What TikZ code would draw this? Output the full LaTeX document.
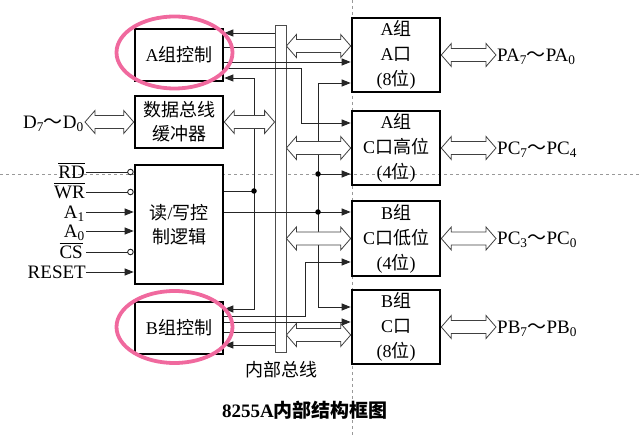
\documentclass[tikz,border=0pt]{standalone}
\usepackage{fontspec}
\setmainfont{Liberation Serif}
\newfontfamily\cjk{Noto Sans CJK SC}
\usetikzlibrary{arrows.meta,calc}
\newcommand{\zh}[1]{{\cjk #1}}
\definecolor{pinkc}{RGB}{240,105,158}
\newcommand{\dbarrow}[2]{%
 \draw[blockarrow] let \p1=(#1), \p2=(#2) in
  (\x1,\y1) -- (\x1+10pt,\y1+11.5pt) -- (\x1+10pt,\y1+6.5pt) -- (\x2-10pt,\y1+6.5pt) -- (\x2-10pt,\y1+11.5pt) -- (\x2,\y1) -- (\x2-10pt,\y1-11.5pt) -- (\x2-10pt,\y1-6.5pt) -- (\x1+10pt,\y1-6.5pt) -- (\x1+10pt,\y1-11.5pt) -- cycle;}
\newcommand{\ovl}[1]{$\overline{\mbox{\vphantom{I}\rule{0pt}{14pt}#1}}$}
\begin{document}
\begin{tikzpicture}[x=1pt,y=-1pt,
  box/.style={draw, line width=2.6pt, minimum width=88pt, inner sep=0pt, align=center, font=\fontsize{18}{24}\selectfont},
  portbox/.style={box, minimum height=74pt, font=\fontsize{18}{25}\selectfont},
  sig/.style={draw=black!85, line width=0.9pt},
  arr/.style={sig, -{Triangle[length=9pt,width=7pt]}},
  inv/.style={sig, -{Circle[open,length=6.5pt,width=6.5pt]}},
  blockarrow/.style={draw=black!75, line width=0.8pt, fill=white, line join=miter},
  dot/.style={circle, fill, inner sep=0pt, minimum size=5.5pt},
  lab/.style={font=\fontsize{19}{22}\selectfont, inner sep=0pt},
  guide/.style={draw=gray!80, line width=0.6pt, dash pattern=on 3pt off 3pt},
  ring/.style={draw=pinkc, line width=3.8pt}]
\useasboundingbox (0,0) rectangle (642,435);
% guide lines
\draw[guide] (0,174) -- (642,174);
\draw[guide] (352,0) -- (352,435);

% bus
\node[draw=black!70, line width=0.8pt, fill=white, minimum width=11pt, minimum height=327pt, inner sep=0pt] (bus) at (280.5,188.5) {};

% left boxes
\node[box, minimum height=52pt] (actl) at (179,55) {A\zh{组控制}};
\node[box, minimum height=52pt] (buf) at (179,122) {\zh{数据总线}\\\zh{缓冲器}};
\node[box, minimum height=119pt, fill=white] (rw) at (179,224.5) {\zh{读}/\zh{写控}\\\zh{制逻辑}};
\node[box, minimum height=52pt] (bctl) at (179,328) {B\zh{组控制}};

% right boxes
\node[portbox] (pa) at (396,55) {A\zh{组}\\A\zh{口}\\(8\zh{位})};
\node[portbox] (pch) at (396,148) {A\zh{组}\\C\zh{口高位}\\(4\zh{位})};
\node[portbox, minimum height=75pt] (pcl) at (396,238.5) {B\zh{组}\\C\zh{口低位}\\(4\zh{位})};
\node[portbox] (pb) at (396,327) {B\zh{组}\\C\zh{口}\\(8\zh{位})};

% coordinates
\coordinate (ya1) at (0,33);
\coordinate (ya2) at (0,47);
\coordinate (ya3) at (0,62);
\coordinate (k1) at (301,68);
\coordinate (k2) at (301,123);
\coordinate (j1) at (254,78);
\coordinate (j2) at (254,191);
\coordinate (j3) at (254,309);
\coordinate (m1) at (318,83);
\coordinate (m2) at (318,174);
\coordinate (m3) at (318,212);
\coordinate (m4) at (318,307);
\coordinate (n1) at (305,316);
\coordinate (n2) at (305,262);
\coordinate (yb2) at (0,322);
\coordinate (yb3) at (0,332);
\coordinate (yb4) at (0,345);
\coordinate (yd1) at (0,46);
\coordinate (yd4) at (0,335);
\coordinate (dS) at (85,122);
\coordinate (outX) at (496,0);

% internal connections
\draw[arr] (ya1 -| bus.west) -- (ya1 -| actl.east);
\draw[sig] (ya2 -| actl.east) -- (ya2 -| bus.west);
\draw[arr] (ya3 -| actl.east) -- (ya3 -| pa.west);
\draw[arr] (k1 -| actl.east) -- (k1) -- (k2) -- (k2 -| pch.west);
\draw[arr] (j2) -- (j1) -- (j1 -| actl.east);
\draw[arr] (j2) -- (j3) -- (j3 -| bctl.east);
\draw[sig] (j2 -| rw.east) -- (j2);
\draw[arr] (m3 -| rw.east) -- (m3 -| pcl.west);
\draw[arr] (m3) -- (m1) -- (m1 -| pa.west);
\draw[arr] (m3) -- (m4) -- (m4 -| pb.west);
\draw[arr] (m2) -- (m2 -| pch.west);
\draw[arr] (n1 -| bctl.east) -- (n1) -- (n2) -- (n2 -| pcl.west);
\draw[arr] (yb2 -| bctl.east) -- (yb2 -| pb.west);
\draw[sig] (yb3 -| bctl.east) -- (yb3 -| bus.west);
\draw[arr] (yb4 -| bus.west) -- (yb4 -| bctl.east);
\node[dot] (d1) at (j2) {};
\node[dot] (d2) at (m2) {};
\node[dot] (d3) at (m3) {};

% block arrows
\dbarrow{dS}{buf.west}
\dbarrow{buf.east}{buf.east -| bus.west}
\dbarrow{yd1 -| bus.east}{yd1 -| pa.west}
\dbarrow{pch.west -| bus.east}{pch.west}
\dbarrow{pcl.west -| bus.east}{pcl.west}
\dbarrow{yd4 -| bus.east}{yd4 -| pb.west}
\dbarrow{pa.east}{pa.east -| outX}
\dbarrow{pch.east}{pch.east -| outX}
\dbarrow{pcl.east}{pcl.east -| outX}
\dbarrow{pb.east}{pb.east -| outX}

% left labels
\node[lab, anchor=base east] (dL) at ([xshift=-1pt,yshift=-6.5pt]dS) {D\textsubscript{7}\zh{～}D\textsubscript{0}};

\coordinate (sRD) at (86,172);
\coordinate (sWR) at (86,192);
\coordinate (sA1) at (86,212);
\coordinate (sA0) at (86,231);
\coordinate (sCS) at (86,252);
\coordinate (sRS) at (86,272);
\node[lab, anchor=base east] (lRD) at ([xshift=-1pt,yshift=-6.5pt]sRD) {\ovl{RD}};
\node[lab, anchor=base east] (lWR) at ([xshift=-1pt,yshift=-6.5pt]sWR) {\ovl{WR}};
\node[lab, anchor=base east] (lA1) at ([xshift=-1pt,yshift=-6.5pt]sA1) {A\textsubscript{1}};
\node[lab, anchor=base east] (lA0) at ([xshift=-1pt,yshift=-6.5pt]sA0) {A\textsubscript{0}};
\node[lab, anchor=base east] (lCS) at ([xshift=-3pt,yshift=-6.5pt]sCS) {\ovl{CS}};
\node[lab, anchor=base east] (lRS) at ([xshift=0pt,yshift=-6.5pt]sRS) {RESET};
\draw[inv] (sRD) -- (sRD -| rw.west);
\draw[inv] (sWR) -- (sWR -| rw.west);
\draw[arr] (sA1) -- (sA1 -| rw.west);
\draw[arr] (sA0) -- (sA0 -| rw.west);
\draw[inv] (sCS) -- (sCS -| rw.west);
\draw[arr] (sRS) -- (sRS -| rw.west);

% right labels
\node[lab, anchor=base west] (lPA) at ([xshift=1pt,yshift=-6.5pt]pa.east -| outX) {PA\textsubscript{7}\zh{～}PA\textsubscript{0}};
\node[lab, anchor=base west] (lPCH) at ([xshift=1pt,yshift=-6.5pt]pch.east -| outX) {PC\textsubscript{7}\zh{～}PC\textsubscript{4}};
\node[lab, anchor=base west] (lPCL) at ([xshift=1pt,yshift=-6.5pt]pcl.east -| outX) {PC\textsubscript{3}\zh{～}PC\textsubscript{0}};
\node[lab, anchor=base west] (lPB) at ([xshift=1pt,yshift=-6.5pt]pb.east -| outX) {PB\textsubscript{7}\zh{～}PB\textsubscript{0}};

% bus label and title
\node[font=\fontsize{18}{22}\selectfont, inner sep=0pt] (busL) at (281,370) {\zh{内部总线}};
\node[font=\bfseries\fontsize{19}{22}\selectfont, inner sep=0pt] (title) at (305,410) {8255A\zh{内部结构框图}};

% highlight rings
\draw[ring] (174.5,52.5) ellipse [x radius=58pt, y radius=36pt];
\draw[ring] (174.5,327) ellipse [x radius=58pt, y radius=36pt];
\end{tikzpicture}
\end{document}
